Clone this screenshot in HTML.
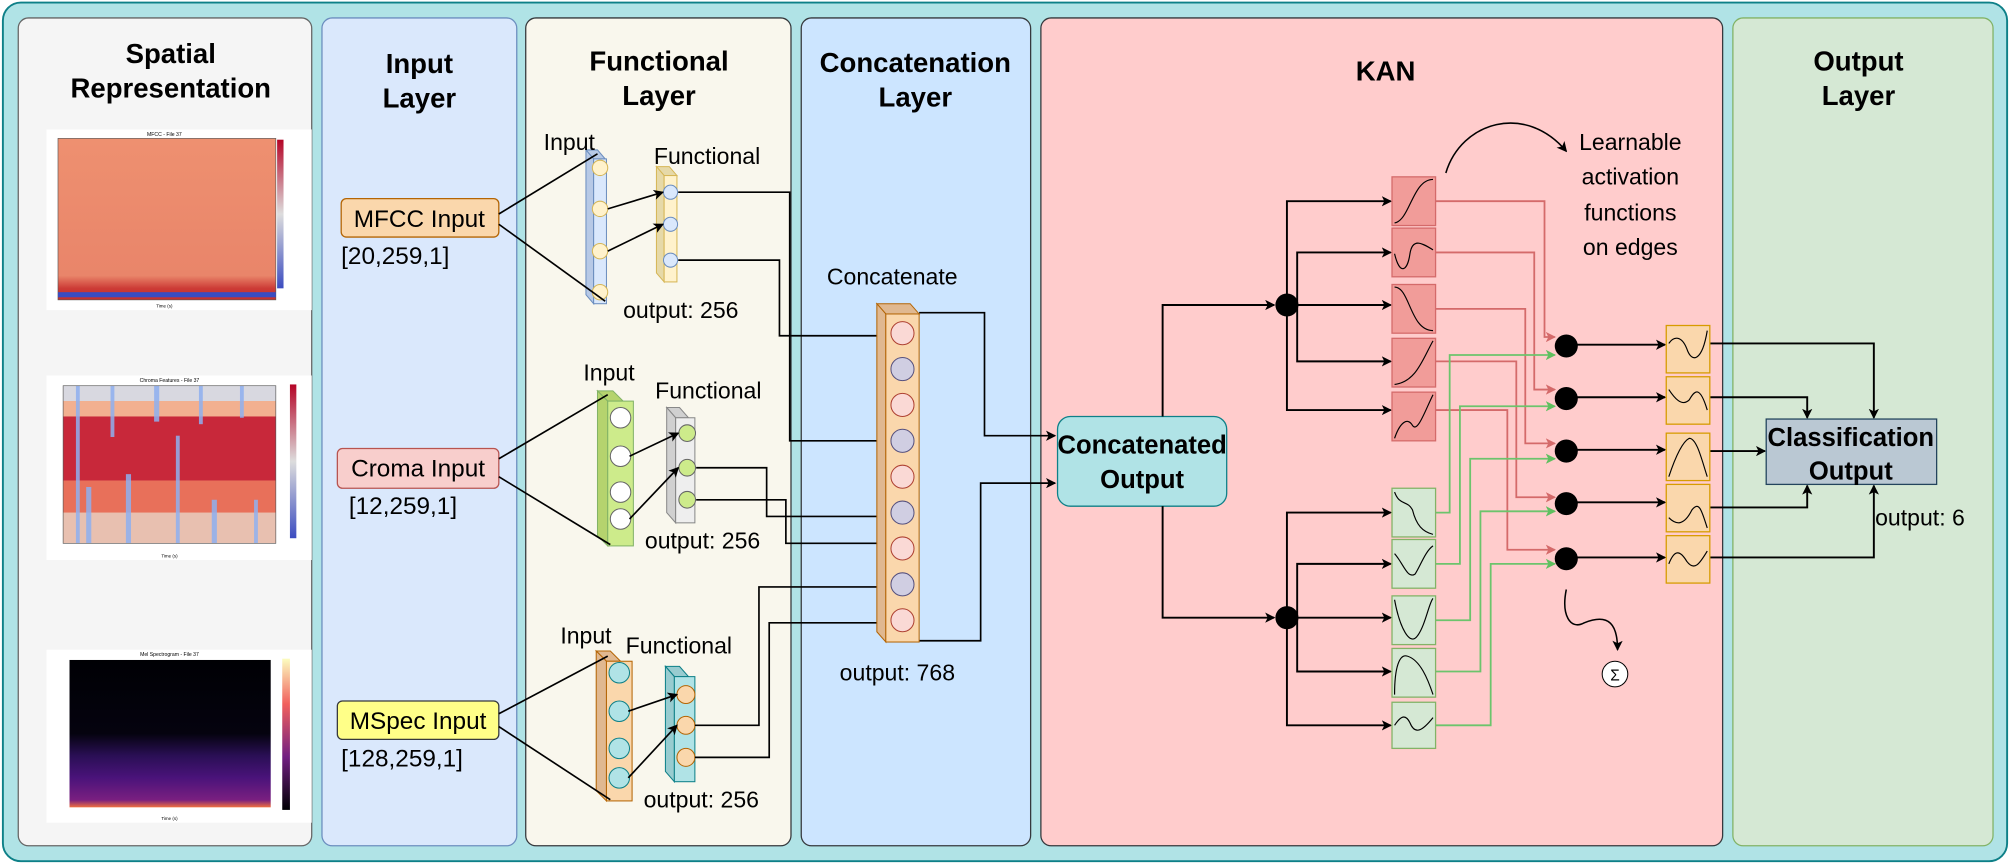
<!DOCTYPE html>
<html><head><meta charset="utf-8"><style>
html,body{margin:0;padding:0;background:#fff}
svg{display:block}
text{font-family:"Liberation Sans",sans-serif}
</style></head><body>
<svg width="2010" height="865" viewBox="0 0 1568 675" xmlns="http://www.w3.org/2000/svg">
<defs>
<marker id="ab" markerWidth="8" markerHeight="8" refX="7" refY="4" orient="auto" markerUnits="userSpaceOnUse"><path d="M0,0 L8,4 L0,8 L2,4 z" fill="#000"/></marker>
<marker id="ar" markerWidth="8" markerHeight="8" refX="7" refY="4" orient="auto" markerUnits="userSpaceOnUse"><path d="M0,0 L8,4 L0,8 L2,4 z" fill="#d46a6a"/></marker>
<marker id="ag" markerWidth="8" markerHeight="8" refX="7" refY="4" orient="auto" markerUnits="userSpaceOnUse"><path d="M0,0 L8,4 L0,8 L2,4 z" fill="#5fbf5f"/></marker>
<linearGradient id="cb1" x1="0" y1="0" x2="0" y2="1"><stop offset="0" stop-color="#b40426"/><stop offset="0.5" stop-color="#dddddd"/><stop offset="1" stop-color="#3b4cc0"/></linearGradient>
<linearGradient id="cb3" x1="0" y1="0" x2="0" y2="1"><stop offset="0" stop-color="#fcfdbf"/><stop offset="0.3" stop-color="#f1605d"/><stop offset="0.65" stop-color="#721f81"/><stop offset="1" stop-color="#000004"/></linearGradient>
<linearGradient id="mf" x1="0" y1="0" x2="0" y2="1"><stop offset="0" stop-color="#ee9070"/><stop offset="0.85" stop-color="#e9856a"/><stop offset="0.93" stop-color="#cc3a35"/><stop offset="1" stop-color="#c8302c"/></linearGradient>
<linearGradient id="mel" x1="0" y1="0" x2="0" y2="1"><stop offset="0" stop-color="#000004"/><stop offset="0.5" stop-color="#05030f"/><stop offset="0.65" stop-color="#2a0f55"/><stop offset="0.8" stop-color="#4a137a"/><stop offset="0.95" stop-color="#7a1f80"/><stop offset="1" stop-color="#f07040"/></linearGradient>
</defs>

<rect x="2" y="2" width="1564" height="670" rx="14" fill="#b0e3e6" stroke="#0e8088" stroke-width="1.5"/>
<rect x="14" y="14" width="229" height="646" rx="8" fill="#f5f5f5" stroke="#666" stroke-width="1"/>
<rect x="251" y="14" width="152" height="646" rx="8" fill="#dae8fc" stroke="#6c8ebf" stroke-width="1"/>
<rect x="410" y="14" width="207" height="646" rx="8" fill="#f9f7ed" stroke="#36393d" stroke-width="1"/>
<rect x="625" y="14" width="179" height="646" rx="8" fill="#cce5ff" stroke="#36393d" stroke-width="1"/>
<rect x="812" y="14" width="532" height="646" rx="8" fill="#ffcccc" stroke="#36393d" stroke-width="1"/>
<rect x="1352" y="14" width="203" height="646" rx="8" fill="#d5e8d4" stroke="#82b366" stroke-width="1"/>

<g font-weight="bold" font-size="21.5" text-anchor="middle" fill="#000">
<text x="133" y="49">Spatial</text><text x="133" y="76">Representation</text>
<text x="327" y="57">Input</text><text x="327" y="84">Layer</text>
<text x="514" y="55">Functional</text><text x="514" y="82">Layer</text>
<text x="714" y="56">Concatenation</text><text x="714" y="83">Layer</text>
<text x="1081" y="63">KAN</text>
<text x="1450" y="55">Output</text><text x="1450" y="82">Layer</text>
</g>

<rect x="36" y="101" width="207" height="141" fill="#fff"/>
<text x="128" y="106" font-size="4" text-anchor="middle">MFCC - File 37</text>
<rect x="45" y="108" width="170" height="126" fill="url(#mf)" stroke="#555" stroke-width="0.5"/>
<rect x="45" y="228" width="170" height="4" fill="#3b4cc0"/>
<rect x="216" y="109" width="5" height="116" fill="url(#cb1)"/>
<text x="128" y="240" font-size="3.5" text-anchor="middle">Time (s)</text>

<rect x="36" y="293" width="207" height="144" fill="#fff"/>
<text x="132" y="298" font-size="4" text-anchor="middle">Chroma Features - File 37</text>
<g>
<rect x="49" y="301" width="166" height="123" fill="#f0a080"/>
<rect x="49" y="301" width="166" height="12" fill="#d8d8e0"/>
<rect x="49" y="313" width="166" height="12" fill="#f2b090"/>
<rect x="49" y="325" width="166" height="50" fill="#c8283a"/>
<rect x="49" y="375" width="166" height="25" fill="#e8705a"/>
<rect x="49" y="400" width="166" height="24" fill="#e8c0b0"/>
<g fill="#8fb0f0" opacity="0.85">
<rect x="59" y="301" width="3" height="123"/><rect x="67" y="380" width="4" height="44"/><rect x="86" y="301" width="3" height="40"/><rect x="98" y="370" width="4" height="54"/><rect x="120" y="301" width="4" height="28"/><rect x="137" y="340" width="3" height="84"/><rect x="155" y="301" width="3" height="30"/><rect x="165" y="390" width="4" height="34"/><rect x="187" y="301" width="3" height="25"/><rect x="198" y="390" width="3" height="34"/>
</g>
<rect x="49" y="301" width="166" height="123" fill="none" stroke="#555" stroke-width="0.5"/>
</g>
<rect x="226" y="300" width="5" height="120" fill="url(#cb1)"/>
<text x="132" y="435" font-size="3.5" text-anchor="middle">Time (s)</text>

<rect x="36" y="507" width="207" height="135" fill="#fff"/>
<text x="132" y="512" font-size="4" text-anchor="middle">Mel Spectrogram - File 37</text>
<rect x="54" y="515" width="157" height="115" fill="url(#mel)"/>
<rect x="220" y="514" width="6" height="118" fill="url(#cb3)"/>
<text x="132" y="640" font-size="3.5" text-anchor="middle">Time (s)</text>

<rect x="266" y="155" width="123" height="30" rx="4" fill="#fad7ac" stroke="#b46504"/>
<text x="327" y="177" font-size="19" text-anchor="middle">MFCC Input</text>
<text x="266" y="206" font-size="19">[20,259,1]</text>
<rect x="263" y="350" width="126" height="31" rx="4" fill="#f8cecc" stroke="#b85450"/>
<text x="326" y="372" font-size="19" text-anchor="middle">Croma Input</text>
<text x="272" y="401" font-size="19">[12,259,1]</text>
<rect x="263" y="547" width="126" height="30" rx="4" fill="#ffff88" stroke="#36393d"/>
<text x="326" y="569" font-size="19" text-anchor="middle">MSpec Input</text>
<text x="266" y="598" font-size="19">[128,259,1]</text>

<g stroke-width="0.8">
<polygon points="457,117 466,117 472,124 463,124" fill="#b7c9e6" stroke="#6c8ebf"/>
<polygon points="457,117 463,124 463,237 457,230" fill="#b7c9e6" stroke="#6c8ebf"/>
<rect x="463" y="124" width="10" height="113" fill="#dae8fc" stroke="#6c8ebf"/>
<polygon points="512,130 522,130 528,137 518,137" fill="#e6d9a8" stroke="#d6b656"/>
<polygon points="512,130 518,137 518,220 512,213" fill="#e6d9a8" stroke="#d6b656"/>
<rect x="518" y="137" width="10" height="83" fill="#fff2cc" stroke="#d6b656"/>
<polygon points="466,305 478,305 486,313 474,313" fill="#b5d36e" stroke="#82b366"/>
<polygon points="466,305 474,313 474,426 466,418" fill="#b5d36e" stroke="#82b366"/>
<rect x="474" y="313" width="20" height="113" fill="#cdeb8b" stroke="#82b366"/>
<polygon points="520,318 530,318 537,326 527,326" fill="#d0d0d0" stroke="#888"/>
<polygon points="520,318 527,326 527,408 520,400" fill="#d0d0d0" stroke="#888"/>
<rect x="527" y="326" width="15" height="82" fill="#eeeeee" stroke="#888"/>
<polygon points="465,508 476,508 484,516 473,516" fill="#e0b890" stroke="#b46504"/>
<polygon points="465,508 473,516 473,625 465,617" fill="#e0b890" stroke="#b46504"/>
<rect x="473" y="516" width="20" height="109" fill="#fad7ac" stroke="#b46504"/>
<polygon points="519,520 530,520 537,528 526,528" fill="#98ccd0" stroke="#0e8088"/>
<polygon points="519,520 526,528 526,610 519,602" fill="#98ccd0" stroke="#0e8088"/>
<rect x="526" y="528" width="16" height="82" fill="#b0e3e6" stroke="#0e8088"/>
</g>
<g stroke-width="0.8">
<g fill="#fff2cc" stroke="#d6b656"><circle cx="468" cy="131" r="6"/><circle cx="468" cy="163" r="6"/><circle cx="468" cy="196" r="6"/><circle cx="468" cy="228" r="6"/></g>
<g fill="#dae8fc" stroke="#6c8ebf"><circle cx="523" cy="150" r="5.5"/><circle cx="523" cy="175" r="5.5"/><circle cx="523" cy="203" r="5.5"/></g>
<g fill="#fff" stroke="#666"><circle cx="484" cy="326" r="8"/><circle cx="484" cy="356" r="8"/><circle cx="484" cy="384" r="8"/><circle cx="484" cy="405" r="8"/></g>
<g fill="#cdeb8b" stroke="#666"><circle cx="536" cy="338" r="6.5"/><circle cx="536" cy="365" r="6.5"/><circle cx="536" cy="390" r="6.5"/></g>
<g fill="#b0e3e6" stroke="#0e8088"><circle cx="483" cy="525" r="8"/><circle cx="483" cy="555" r="8"/><circle cx="483" cy="584" r="8"/><circle cx="483" cy="607" r="8"/></g>
<g fill="#fad7ac" stroke="#b46504"><circle cx="535" cy="542" r="7"/><circle cx="535" cy="566" r="7"/><circle cx="535" cy="591" r="7"/></g>
</g>
<g font-size="18" fill="#000">
<text x="424" y="117">Input</text><text x="510" y="128">Functional</text><text x="486" y="248">output: 256</text>
<text x="455" y="297">Input</text><text x="511" y="311">Functional</text><text x="503" y="428">output: 256</text>
<text x="437" y="502">Input</text><text x="488" y="510">Functional</text><text x="502" y="630">output: 256</text>
<text x="645" y="222">Concatenate</text><text x="655" y="531">output: 768</text>
</g>
<g stroke="#000" stroke-width="1.3" fill="none">
<line x1="389" y1="167" x2="466" y2="120"/><line x1="389" y1="175" x2="472" y2="235"/>
<line x1="389" y1="358" x2="474" y2="308"/><line x1="389" y1="372" x2="476" y2="425"/>
<line x1="389" y1="557" x2="474" y2="512"/><line x1="389" y1="567" x2="476" y2="624"/>
<line x1="474" y1="163" x2="517" y2="150" marker-end="url(#ab)"/><line x1="474" y1="196" x2="517" y2="175" marker-end="url(#ab)"/>
<line x1="491" y1="356" x2="529" y2="338" marker-end="url(#ab)"/><line x1="491" y1="405" x2="529" y2="365" marker-end="url(#ab)"/>
<line x1="490" y1="555" x2="528" y2="542" marker-end="url(#ab)"/><line x1="490" y1="607" x2="528" y2="566" marker-end="url(#ab)"/>
<path d="M529,150 H616 V344 H686"/>
<path d="M529,203 H608 V262 H686"/>
<path d="M543,365 H598 V403 H686"/>
<path d="M543,390 H613 V424 H686"/>
<path d="M542,566 H592 V458 H686"/>
<path d="M542,591 H600 V486 H686"/>
<path d="M717,244 H768 V340 H823" marker-end="url(#ab)"/>
<path d="M717,500 H765 V377 H823" marker-end="url(#ab)"/>
</g>
<polygon points="684,237 710,237 717,245 691,245" fill="#e0b890" stroke="#b46504" stroke-width="0.8"/>
<polygon points="684,237 691,245 691,501 684,493" fill="#e0b890" stroke="#b46504" stroke-width="0.8"/>
<rect x="691" y="245" width="26" height="256" fill="#fad7ac" stroke="#b46504" stroke-width="0.8"/>
<g stroke-width="0.8">
<circle cx="704" cy="260" r="9" fill="#fad9d5" stroke="#ae4132"/>
<circle cx="704" cy="288" r="9" fill="#d0cee2" stroke="#56517e"/>
<circle cx="704" cy="316" r="9" fill="#fad9d5" stroke="#ae4132"/>
<circle cx="704" cy="344" r="9" fill="#d0cee2" stroke="#56517e"/>
<circle cx="704" cy="372" r="9" fill="#fad9d5" stroke="#ae4132"/>
<circle cx="704" cy="400" r="9" fill="#d0cee2" stroke="#56517e"/>
<circle cx="704" cy="428" r="9" fill="#fad9d5" stroke="#ae4132"/>
<circle cx="704" cy="456" r="9" fill="#d0cee2" stroke="#56517e"/>
<circle cx="704" cy="484" r="9" fill="#fad9d5" stroke="#ae4132"/>
</g>

<rect x="825" y="325" width="132" height="70" rx="10" fill="#b0e3e6" stroke="#0e8088"/>
<text x="891" y="354" font-size="20" font-weight="bold" text-anchor="middle">Concatenated</text>
<text x="891" y="381" font-size="20" font-weight="bold" text-anchor="middle">Output</text>

<g stroke="#000" stroke-width="1.5" fill="none">
<path d="M907,325 V238 H994" marker-end="url(#ab)"/>
<path d="M907,395 V482 H994" marker-end="url(#ab)"/>
<path d="M1004,238 V157 H1085" marker-end="url(#ab)"/>
<path d="M1012,238 V197 H1085" marker-end="url(#ab)"/>
<path d="M1004,238 H1085" marker-end="url(#ab)"/>
<path d="M1012,238 V282 H1085" marker-end="url(#ab)"/>
<path d="M1004,238 V320 H1085" marker-end="url(#ab)"/>
<path d="M1004,482 V400 H1085" marker-end="url(#ab)"/>
<path d="M1012,482 V440 H1085" marker-end="url(#ab)"/>
<path d="M1004,482 H1085" marker-end="url(#ab)"/>
<path d="M1012,482 V524 H1085" marker-end="url(#ab)"/>
<path d="M1004,482 V566 H1085" marker-end="url(#ab)"/>
<line x1="1222" y1="269" x2="1299" y2="269" marker-end="url(#ab)"/>
<line x1="1222" y1="310" x2="1299" y2="310" marker-end="url(#ab)"/>
<line x1="1222" y1="351" x2="1299" y2="351" marker-end="url(#ab)"/>
<line x1="1222" y1="392" x2="1299" y2="392" marker-end="url(#ab)"/>
<line x1="1222" y1="435" x2="1299" y2="435" marker-end="url(#ab)"/>
<path d="M1334,268 H1462 V326" marker-end="url(#ab)"/>
<path d="M1334,310 H1410 V326" marker-end="url(#ab)"/>
<path d="M1334,352 H1377" marker-end="url(#ab)"/>
<path d="M1334,396 H1410 V379" marker-end="url(#ab)"/>
<path d="M1334,435 H1462 V379" marker-end="url(#ab)"/>
<path d="M1128,135 C1140,95 1190,80 1222,118" stroke-width="1.2" marker-end="url(#ab)"/>
<path d="M1222,460 C1218,480 1225,492 1236,486 C1256,478 1262,488 1262,507" stroke-width="1.2" marker-end="url(#ab)"/>
</g>
<g stroke="#d46a6a" stroke-width="1.4" fill="none">
<path d="M1120,157 H1205 V263 H1213" marker-end="url(#ar)"/>
<path d="M1120,197 H1197 V304 H1213" marker-end="url(#ar)"/>
<path d="M1120,241 H1190 V346 H1213" marker-end="url(#ar)"/>
<path d="M1120,282 H1183 V388 H1213" marker-end="url(#ar)"/>
<path d="M1120,320 H1176 V429 H1213" marker-end="url(#ar)"/>
</g>
<g stroke="#6cc46c" stroke-width="1.4" fill="none">
<path d="M1120,400 H1131 V277 H1213" marker-end="url(#ag)"/>
<path d="M1120,440 H1139 V317 H1213" marker-end="url(#ag)"/>
<path d="M1120,484 H1147 V358 H1213" marker-end="url(#ag)"/>
<path d="M1120,524 H1155 V399 H1213" marker-end="url(#ag)"/>
<path d="M1120,566 H1163 V440 H1213" marker-end="url(#ag)"/>
</g>
<g fill="#000">
<circle cx="1004" cy="238" r="9"/><circle cx="1004" cy="482" r="9"/>
<circle cx="1222" cy="270" r="9"/><circle cx="1222" cy="311" r="9"/><circle cx="1222" cy="352" r="9"/><circle cx="1222" cy="393" r="9"/><circle cx="1222" cy="436" r="9"/>
</g>
<g fill="#f19c99" stroke="#d46a6a" stroke-width="1">
<rect x="1086" y="138" width="34" height="38"/><rect x="1086" y="178" width="34" height="38"/><rect x="1086" y="222" width="34" height="38"/><rect x="1086" y="264" width="34" height="38"/><rect x="1086" y="306" width="34" height="38"/>
</g>
<g fill="#d5e8d4" stroke="#82b366" stroke-width="1">
<rect x="1086" y="381" width="34" height="38"/><rect x="1086" y="421" width="34" height="38"/><rect x="1086" y="465" width="34" height="38"/><rect x="1086" y="506" width="34" height="38"/><rect x="1086" y="548" width="34" height="36"/>
</g>
<g fill="#fad7ac" stroke="#d79b00" stroke-width="1">
<rect x="1300" y="254" width="34" height="37"/><rect x="1300" y="294" width="34" height="37"/><rect x="1300" y="338" width="34" height="37"/><rect x="1300" y="378" width="34" height="37"/><rect x="1300" y="418" width="34" height="37"/>
</g>
<g stroke="#000" stroke-width="0.9" fill="none">
<path d="M1088,174 C1100,172 1102,140 1118,140"/>
<path d="M1088,198 C1092,215 1098,212 1100,198 C1102,185 1110,190 1118,195"/>
<path d="M1088,224 C1100,224 1100,258 1118,258"/>
<path d="M1088,300 C1105,298 1110,280 1118,266"/>
<path d="M1088,342 C1092,330 1098,325 1102,332 C1106,338 1112,320 1118,308"/>
<path d="M1088,384 C1092,395 1098,390 1102,398 C1105,410 1110,415 1118,417"/>
<path d="M1088,432 C1095,440 1098,452 1104,448 C1108,442 1112,430 1118,426"/>
<path d="M1088,468 C1092,490 1100,505 1106,496 C1112,488 1115,470 1118,467"/>
<path d="M1088,542 C1088,520 1092,510 1098,512 C1108,515 1114,530 1118,542"/>
<path d="M1088,566 C1092,560 1096,556 1100,564 C1104,574 1110,570 1118,560"/>
<path d="M1302,268 C1306,262 1312,262 1316,272 C1320,284 1328,282 1332,258"/>
<path d="M1302,304 C1306,310 1312,318 1318,312 C1322,305 1326,300 1332,320"/>
<path d="M1302,372 C1306,360 1312,345 1318,342 C1324,342 1328,360 1332,372"/>
<path d="M1302,404 C1308,410 1314,410 1320,398 C1326,390 1328,400 1332,412"/>
<path d="M1302,440 C1306,430 1310,428 1316,438 C1322,446 1326,440 1332,430"/>
</g>
<text font-size="18" text-anchor="middle"><tspan x="1272" y="117">Learnable</tspan><tspan x="1272" y="144">activation</tspan><tspan x="1272" y="172">functions</tspan><tspan x="1272" y="199">on edges</tspan></text>
<circle cx="1260" cy="526" r="10" fill="#fff" stroke="#000" stroke-width="0.8"/>
<text x="1260" y="531" font-size="12" text-anchor="middle">Σ</text>

<rect x="1378" y="327" width="133" height="51" fill="#bac8d3" stroke="#23445d"/>
<text x="1444" y="348" font-size="20" font-weight="bold" text-anchor="middle">Classification</text>
<text x="1444" y="374" font-size="20" font-weight="bold" text-anchor="middle">Output</text>
<text x="1463" y="410" font-size="18">output: 6</text>
</svg>
</body></html>
